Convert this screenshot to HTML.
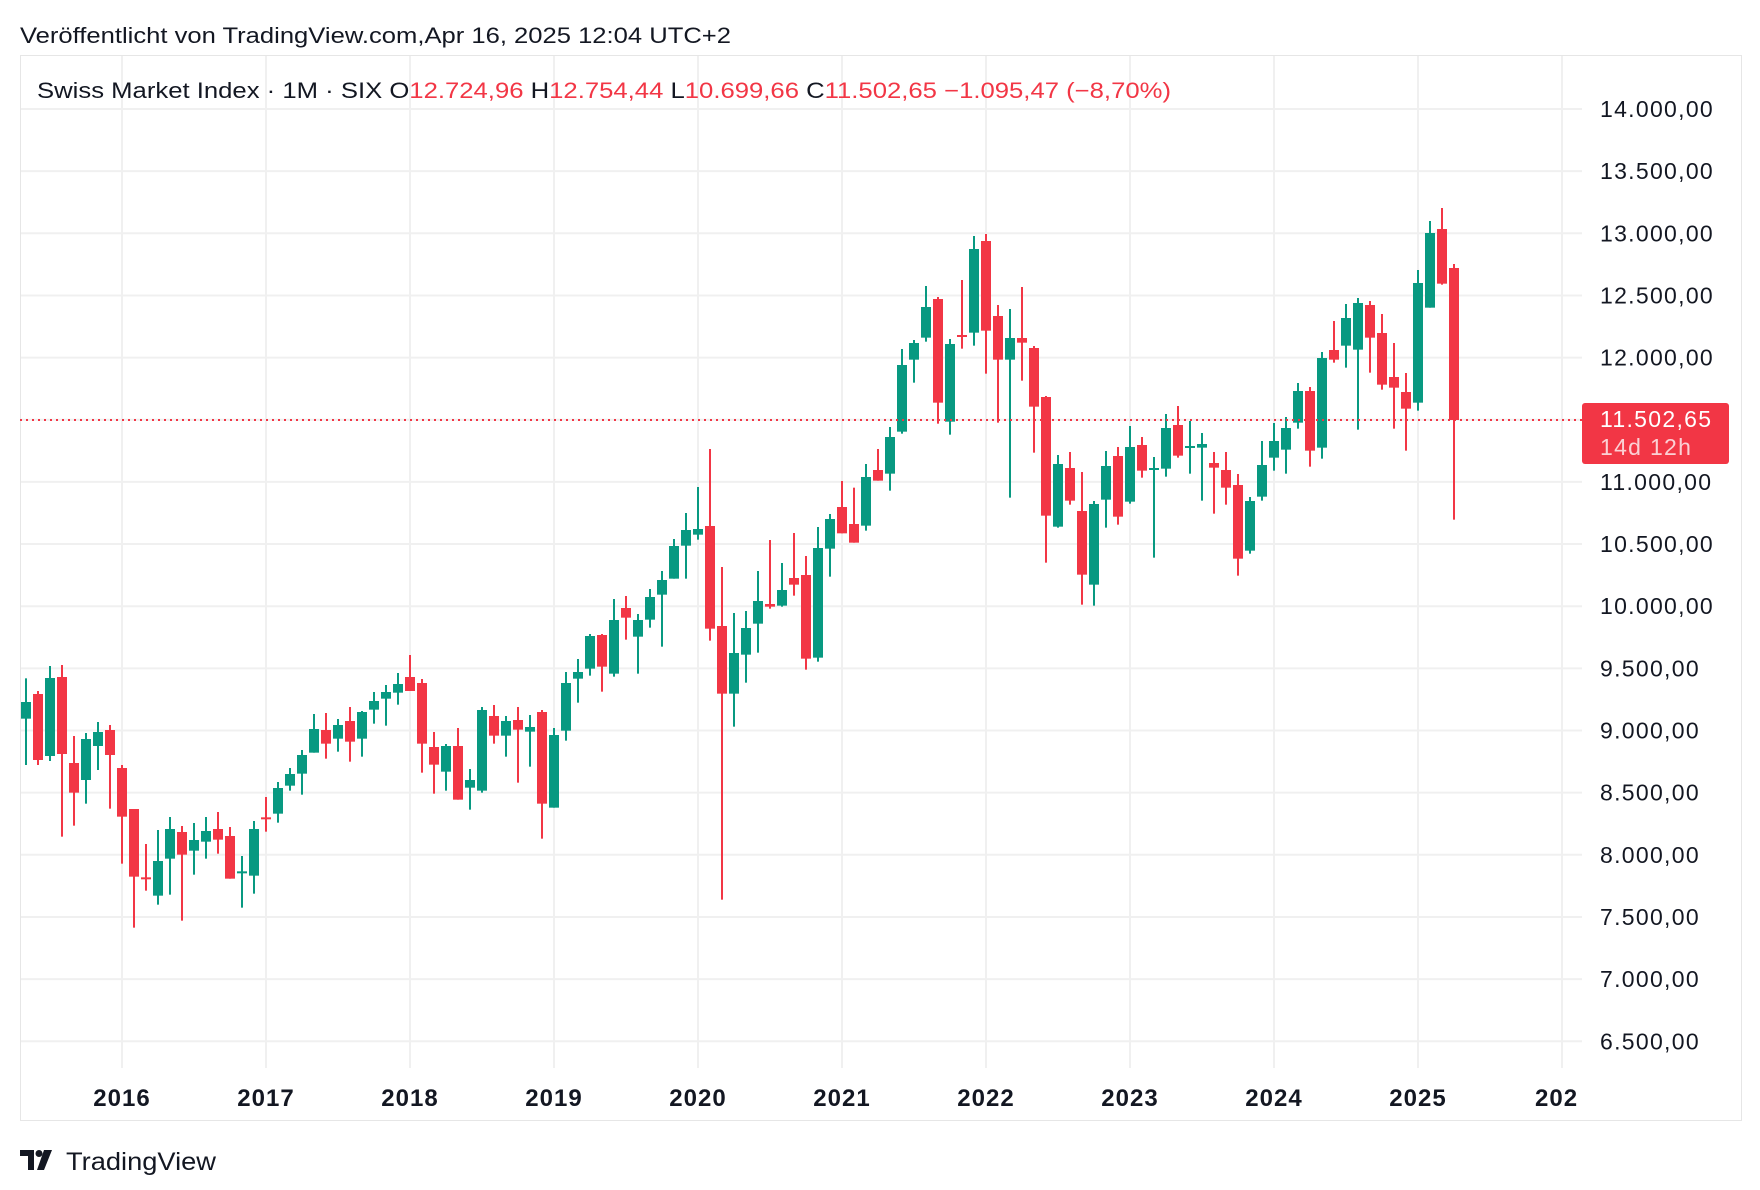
<!DOCTYPE html>
<html><head><meta charset="utf-8"><style>
html,body{margin:0;padding:0;background:#fff;}
svg{display:block;font-family:"Liberation Sans",sans-serif;}
</style></head><body>
<svg id="s" width="1760" height="1190" viewBox="0 0 1760 1190" xmlns="http://www.w3.org/2000/svg">
<rect x="0" y="0" width="1760" height="1190" fill="#fff"/>
<g id="grid"></g>
<rect x="20.5" y="55.5" width="1721" height="1065" fill="none" stroke="#e6e6e6" stroke-width="1"/>
<text x="20" y="43" font-size="22" fill="#131722" textLength="711" lengthAdjust="spacingAndGlyphs">Veröffentlicht von TradingView.com,Apr 16, 2025 12:04 UTC+2</text>
<text x="37" y="98" font-size="22" fill="#131722" textLength="1134" lengthAdjust="spacingAndGlyphs">Swiss Market Index · 1M · SIX  O<tspan fill="#f23645">12.724,96</tspan>  H<tspan fill="#f23645">12.754,44</tspan>  L<tspan fill="#f23645">10.699,66</tspan>  C<tspan fill="#f23645">11.502,65  −1.095,47 (−8,70%)</tspan></text>
<g id="candles"></g>
<line x1="20" y1="420" x2="1582" y2="420" stroke="#f23645" stroke-width="2" stroke-dasharray="2 4"/>
<rect x="1582" y="403" width="147" height="61" rx="3" fill="#f23645"/>
<text x="1600" y="427" font-size="23" fill="#fff" letter-spacing="1.3">11.502,65</text>
<text x="1600" y="455" font-size="23" fill="#fbd0d4" letter-spacing="1.3">14d 12h</text>
<g id="ylab"></g>
<g id="xlab"></g>
<g transform="translate(20,1150)">
<path d="M0 0 H14 V20 H8 V6 H0 Z" fill="#131722"/>
<circle cx="19" cy="3.5" r="3.5" fill="#131722"/>
<path d="M24 0 H32 L24 20 H17 Z" fill="#131722"/>
</g>
<text x="66" y="1170" font-size="25" fill="#131722" textLength="150" lengthAdjust="spacingAndGlyphs">TradingView</text>
</svg>
<script>
var NS="http://www.w3.org/2000/svg";
function el(p,t,a,txt){var e=document.createElementNS(NS,t);for(var k in a)e.setAttribute(k,a[k]);if(txt!==undefined)e.textContent=txt;p.appendChild(e);return e;}
var grid=document.getElementById('grid');
for(var k=0;k<16;k++){var y=109+62.15*k;el(grid,'line',{x1:20,x2:1582,y1:y,y2:y,stroke:'#f0f0f0','stroke-width':2});}
for(var k=0;k<11;k++){var x=122+144*k;el(grid,'line',{x1:x,x2:x,y1:56,y2:1068,stroke:'#f0f0f0','stroke-width':2});}
var yl=document.getElementById('ylab');
var labs=["14.000,00","13.500,00","13.000,00","12.500,00","12.000,00","11.500,00","11.000,00","10.500,00","10.000,00","9.500,00","9.000,00","8.500,00","8.000,00","7.500,00","7.000,00","6.500,00"];
for(var k=0;k<16;k++){if(k==5)continue;var y=109+62.15*k;el(yl,'text',{x:1600,y:y+8,'font-size':23,fill:'#131722','letter-spacing':1.3},labs[k]);}
var xl=document.getElementById('xlab');
for(var k=0;k<10;k++){el(xl,'text',{x:122+144*k,y:1106,'font-size':24,'font-weight':'bold',fill:'#131722','text-anchor':'middle','letter-spacing':1},String(2016+k));}
el(xl,'text',{x:1535,y:1106,'font-size':24,'font-weight':'bold',fill:'#131722','letter-spacing':1},"202");
var sets=[
[620,[[175,435,246,296,'g'],[213,435,222,420,'r'],[138,423,174,408,'g'],[135,650,171,402,'r'],[348,617,429,518,'r'],[339,551,357,480,'g'],[306,450,336,378,'g'],[315,566,330,405,'r'],
[435,731,444,590,'r'],[567,923,567,770,'r'],[672,812,772,776,'r'],[630,854,723,827,'g'],[591,824,627,716,'g'],[618,902,636,704,'r'],[609,764,660,692,'g'],[591,716,633,665,'g'],[576,701,627,659,'r'],[621,776,648,776,'r'],[708,863,754,758,'g'],[603,821,627,767,'g'],
[531,635,592,596,'r'],[486,608,504,581,'g'],[444,512,462,497,'g'],[390,524,405,461,'g'],[282,398,327,398,'g'],[279,416,330,371,'r'],[297,395,315,356,'g'],[261,425,303,365,'r'],[273,410,276,356,'g'],[216,311,243,269,'g'],[195,317,216,236,'g'],[159,254,192,218,'g'],
[105,213,171,213,'r'],[177,458,189,371,'r'],[336,521,381,434,'r']]],
[430,[[942,1082,948,1025,'g'],[894,1109,948,1109,'r'],[1017,1139,1050,1073,'g'],[831,1088,840,1082,'g'],[825,941,858,917,'r'],[858,980,873,917,'g'],[831,1058,870,899,'r'],[855,1010,891,905,'g'],[840,1226,846,1121,'r'],
[894,1133,915,1133,'g'],[726,932,759,902,'g'],[687,818,726,746,'g'],[612,737,618,716,'g'],[612,785,615,710,'r'],[507,740,570,731,'g'],[498,629,534,563,'r'],[552,731,570,620,'g'],[477,593,501,569,'g'],[423,650,450,494,'g'],[327,446,348,446,'g'],[249,446,300,347,'g'],
[171,329,297,314,'g'],[57,632,288,596,'r'],[411,1409,588,791,'r'],[549,890,669,791,'g'],[543,758,594,674,'g'],[423,668,513,581,'g'],[330,536,522,530,'r'],[399,530,480,527,'g'],[309,497,444,464,'r'],[378,719,435,686,'r'],[291,695,354,683,'g']]],
[210,[[912,1100,927,1016,'g'],[813,970,891,970,'r'],[833,998,942,998,'r'],[762,962,801,947,'g'],[717,812,780,812,'r'],[651,842,681,791,'g'],[417,671,465,665,'g'],[390,518,399,449,'g'],[228,395,291,383,'g'],[261,641,267,578,'r'],[387,674,402,635,'g'],
[210,416,375,380,'r'],[78,407,117,368,'g'],[72,491,93,362,'r'],[285,638,318,449,'r'],[297,863,384,449,'g'],[231,512,384,398,'r'],[408,728,414,590,'r'],[558,1058,561,917,'r'],[735,953,762,950,'g'],[726,884,774,872,'r'],[786,1184,903,1094,'r'],[873,1187,882,1124,'g'],[723,953,768,869,'g'],[711,944,738,920,'r'],
[648,881,711,875,'g'],[681,803,705,782,'r'],[741,1043,774,778,'g'],[612,800,654,776,'g'],[588,743,645,737,'r'],[633,791,708,713,'g'],[669,872,702,713,'g'],[726,911,759,773,'r']]],
[200,[[756,914,810,863,'r'],[822,1127,855,1076,'r'],[891,1061,903,1052,'g'],[723,902,795,890,'g'],
[669,812,723,773,'g'],[651,821,684,749,'g'],[549,686,573,668,'g'],[561,800,573,752,'r'],[456,776,474,743,'g'],[363,488,450,479,'r'],[312,503,354,437,'g'],[294,689,309,449,'g'],[303,518,315,413,'r'],[342,569,399,554,'r'],[429,686,531,563,'r'],[519,752,576,626,'r'],
[210,632,249,608,'g'],[63,323,99,323,'g'],[24,254,87,251,'r'],[192,959,204,660,'r']]]
];
var cg=document.getElementById('candles');var i=0;
sets.forEach(function(s){var b=s[0];s[1].forEach(function(c){var x=26+12*i;var col=c[4]=='g'?'#089981':'#f23645';
var wt=b+c[0]/3,wb=b+c[1]/3,bt=b+c[2]/3,bb=b+c[3]/3;if(bb-bt<2)bb=bt+2;
el(cg,'rect',{x:x-1,y:wt,width:2,height:wb-wt,fill:col});
el(cg,'rect',{x:x-5,y:bt,width:10,height:bb-bt,fill:col});i++;});});
</script>
</body></html>
